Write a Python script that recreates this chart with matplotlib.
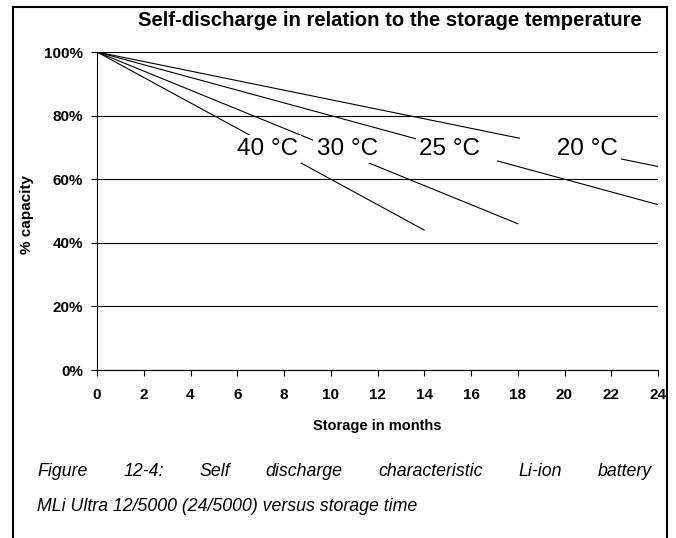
import numpy as np
import matplotlib
matplotlib.use("Agg")
import matplotlib.pyplot as plt
from matplotlib.lines import Line2D

plt.rcParams['font.family'] = ['Liberation Sans', 'DejaVu Sans']

# storage time (months) and remaining capacity (%) per temperature
temps = ["40 °C", "30 °C", "25 °C", "20 °C"]
months = [[0, 14], [0, 18], [0, 24], [0, 24]]
capacity = [[100, 44], [100, 46], [100, 52], [100, 64]]

x_ticks = list(range(0, 25, 2))
y_ticks = [0, 20, 40, 60, 80, 100]
y_ticklabels = ["0%", "20%", "40%", "60%", "80%", "100%"]

title = "Self-discharge in relation to the storage temperature"
caption = ["Figure 12-4: Self discharge characteristic Li-ion battery",
           "MLi Ultra 12/5000 (24/5000) versus storage time"]

W, H = 676, 538


def fx(px):
    return px / W


def fy(py):
    return 1 - py / H


fig = plt.figure(figsize=(W / 100, H / 100), dpi=100)
ax = fig.add_axes([fx(97), fy(370), fx(658) - fx(97), fy(52) - fy(370)])

for xs, ys in zip(months, capacity):
    ax.plot(xs, ys, color="black", lw=0.8, zorder=2)

ax.set_xlim(0, 24)
ax.set_ylim(0, 100)
ax.set_xticks(x_ticks)
ax.set_yticks(y_ticks)
ax.set_yticklabels(y_ticklabels)
ax.yaxis.grid(True, color="black", lw=0.8)
ax.set_axisbelow(True)
for side in ["top", "right"]:
    ax.spines[side].set_visible(False)
for side in ["left", "bottom"]:
    ax.spines[side].set_linewidth(0.8)
ax.tick_params(axis="both", direction="out", length=4, width=0.8, labelsize=11)
ax.tick_params(axis="x", pad=9)
ax.tick_params(axis="y", pad=6)
for lab in ax.get_xticklabels() + ax.get_yticklabels():
    lab.set_fontweight("bold")

ax.set_xlabel("Storage in months", fontsize=10.5, fontweight="bold", labelpad=12)
ax.set_ylabel("% capacity", fontsize=11, fontweight="bold")
ax.yaxis.set_label_coords(fx(34 - 97) / (fx(658) - fx(97)), 0.49)

# temperature labels sit on white boxes that cut the lines (right aligned)
label_pos = [(8.60, 69.5), (12.02, 69.5), (16.96, 69.5), (22.29, 69.5)]
label_txt = ["40 °C", "30 °C", "25 °C  ", "     20 °C"]
for (lx, ly), txt in zip(label_pos, label_txt):
    ax.text(lx, ly, txt, fontsize=17.5, ha="right", va="center", zorder=3,
            bbox=dict(boxstyle="square,pad=0.14", fc="white", ec="none"))

fig.text(fx(390), fy(20), title, fontsize=14.6, fontweight="bold",
         ha="center", va="center")

# frame around the figure, open at the bottom
frame = dict(color="black", lw=1.5, transform=fig.transFigure)
fig.add_artist(Line2D([fx(13), fx(13)], [fy(7), 0], **frame))
fig.add_artist(Line2D([fx(667), fx(667)], [fy(7), 0], **frame))
fig.add_artist(Line2D([fx(13), fx(667)], [fy(7), fy(7)], **frame))

# justified caption: first line spread to full width, second left aligned
renderer = fig.canvas.get_renderer()
cap_style = dict(fontsize=12.8, style="italic", va="baseline")
left, right = 37, 652
words = caption[0].split()
texts = [fig.text(fx(left), fy(476), w, **cap_style) for w in words]
widths = [t.get_window_extent(renderer).width for t in texts]
gap = (right - left - sum(widths)) / (len(words) - 1)
xpos = left
for t, w in zip(texts, widths):
    t.set_x(fx(xpos))
    xpos += w + gap
fig.text(fx(left), fy(511), caption[1], **cap_style)

fig.savefig("out.png", dpi=100)
